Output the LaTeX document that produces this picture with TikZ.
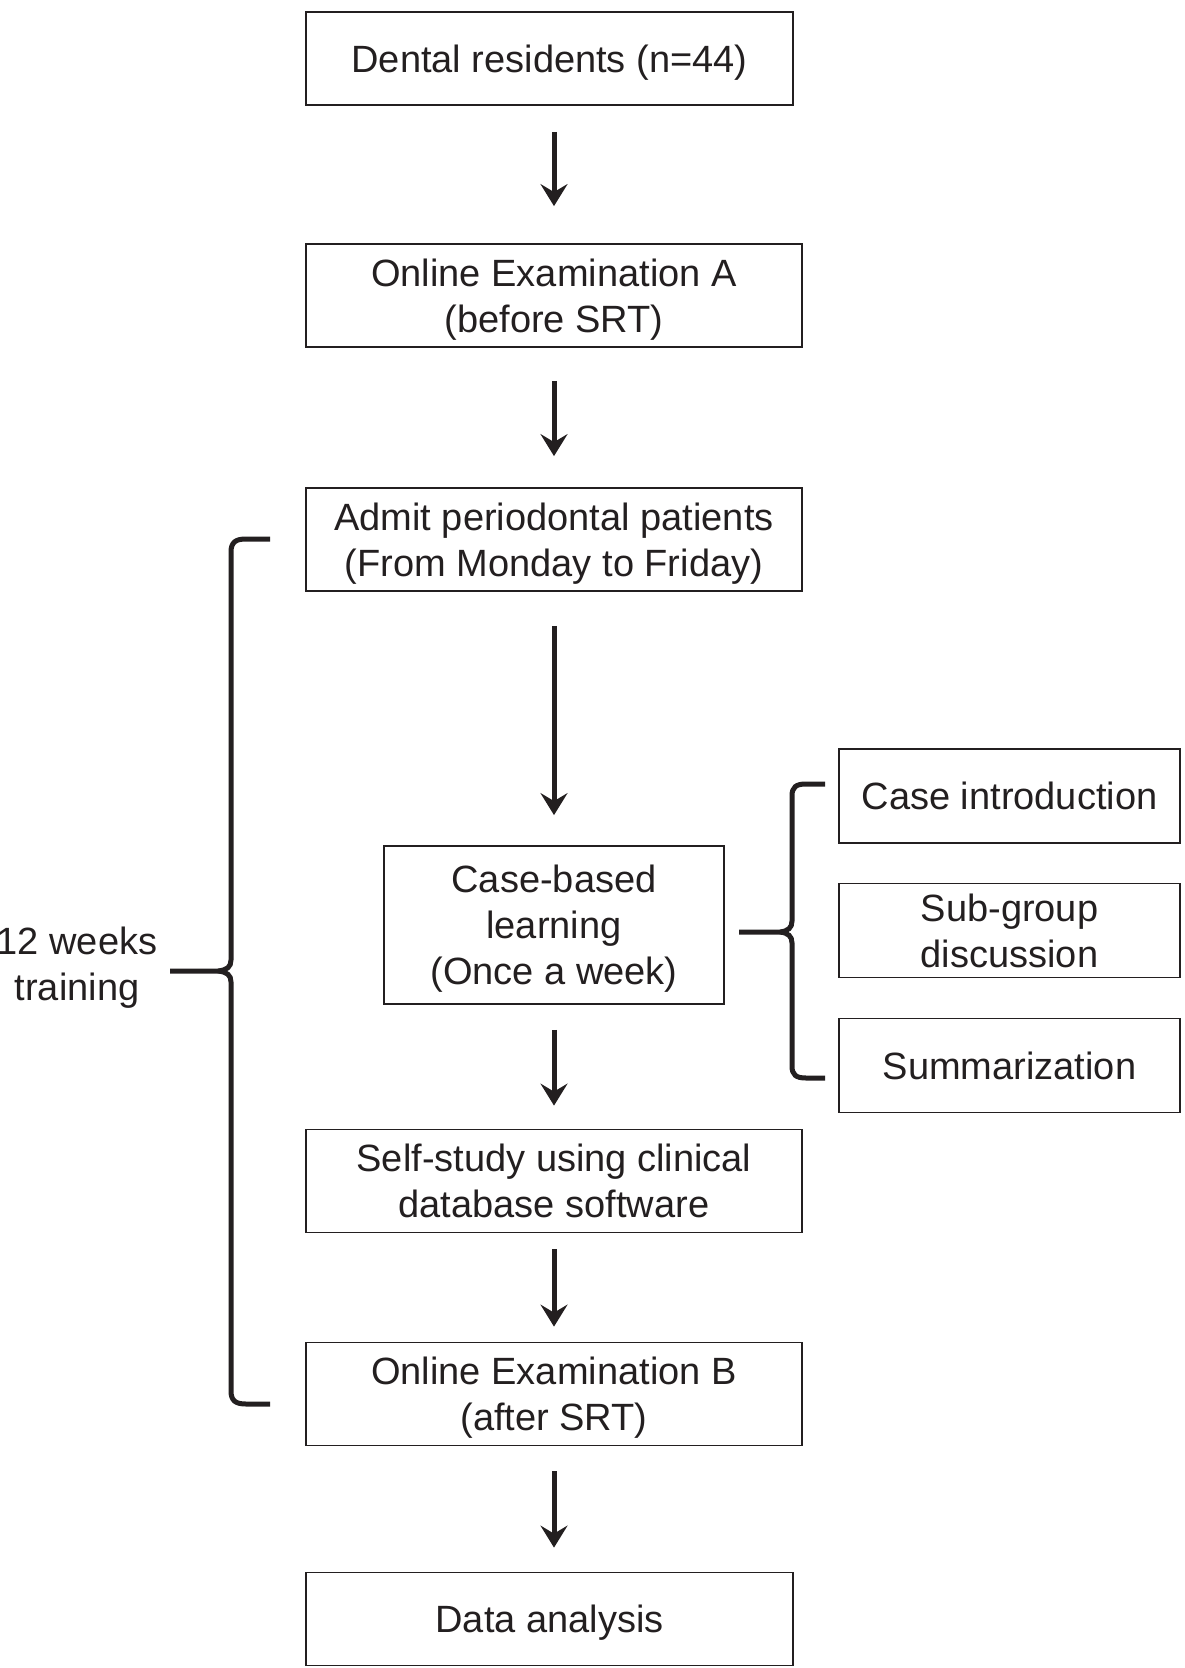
\documentclass[tikz,border=0pt]{standalone}
\usepackage{fontspec}
\setmainfont{Liberation Sans}
\usetikzlibrary{arrows.meta}
\definecolor{ink}{HTML}{231F20}
\tikzset{
  box/.style={draw=ink, line width=0.9pt, text=ink, align=center, inner sep=0pt, text depth=0pt,
    font=\fontsize{19pt}{23pt}\selectfont},
  widebox/.style={box, minimum width=248pt, minimum height=51.5pt},
  endbox/.style={box, minimum width=243.5pt, minimum height=46.5pt},
  sidebox/.style={box, minimum width=170.5pt, minimum height=47pt},
  arr/.style={draw=ink, line width=2.5pt, -{Stealth[length=11pt,width=13.5pt,inset=4pt]}},
  bracket/.style={draw=ink, line width=2.5pt}
}
\begin{document}
\begin{tikzpicture}[x=0.5pt, y=-0.5pt]
        \useasboundingbox (0,0) rectangle (1184,1668);
        % Main column
        \node[endbox] (dental) at (549.5,58.5) {Dental residents (n=44)};
        \node[widebox] (examA) at (554,295.5) {Online Examination A\\(before SRT)};
        \node[widebox] (admit) at (554,539.5) {Admit periodontal patients\\(From Monday to Friday)};
        \node[box, minimum width=170pt, minimum height=79pt] (cbl) at (554,925) {Case-based\\learning\\(Once a week)};
        \node[widebox] (self) at (554,1181) {Self-study using clinical\\database software};
        \node[widebox] (examB) at (554,1394) {Online Examination B\\(after SRT)};
        \node[endbox] (data) at (549.5,1619) {Data analysis};
        % Side boxes
        \node[sidebox] (intro) at (1009.5,796) {Case introduction};
        \node[sidebox] (subgroup) at (1009.5,930.5) {Sub-group\\discussion};
        \node[sidebox] (summ) at (1009.5,1065.5) {Summarization};
        % Left label
        \node[text=ink, align=center, text depth=0pt, font=\fontsize{19pt}{23pt}\selectfont] (weeks) at (77,964) {12 weeks\\training};
        % Arrows
        \foreach \a/\b/\s/\e in {dental/examA/13/18.5, examA/admit/16.5/15.5, admit/cbl/17/15,
                                 cbl/self/12.5/11.5, self/examB/8/7.5, examB/data/12.5/12}
          \draw[arr, shorten <=\s pt, shorten >=\e pt] (\a.south -| self) -- (\b.north -| self);
        % Left bracket
        \draw[bracket] (270,539) -- (246,539) .. controls (236,539) and (231,542) .. (231,552)
          -- (231,960) .. controls (231,967) and (227,970) .. (218,971) -- (170,971);
        \draw[bracket] (218,971) .. controls (227,972) and (231,975) .. (231,982)
          -- (231,1391) .. controls (231,1401) and (236,1404) .. (246,1404) -- (270,1404);
        % Right bracket
        \draw[bracket] (825,784) -- (806,784) .. controls (796,784) and (792,787) .. (792,796)
          -- (792,921) .. controls (792,928) and (788,931) .. (780,932) -- (739,932);
        \draw[bracket] (780,932) .. controls (788,933) and (792,936) .. (792,943)
          -- (792,1066) .. controls (792,1075) and (796,1078) .. (806,1078) -- (825,1078);
\end{tikzpicture}
\end{document}
